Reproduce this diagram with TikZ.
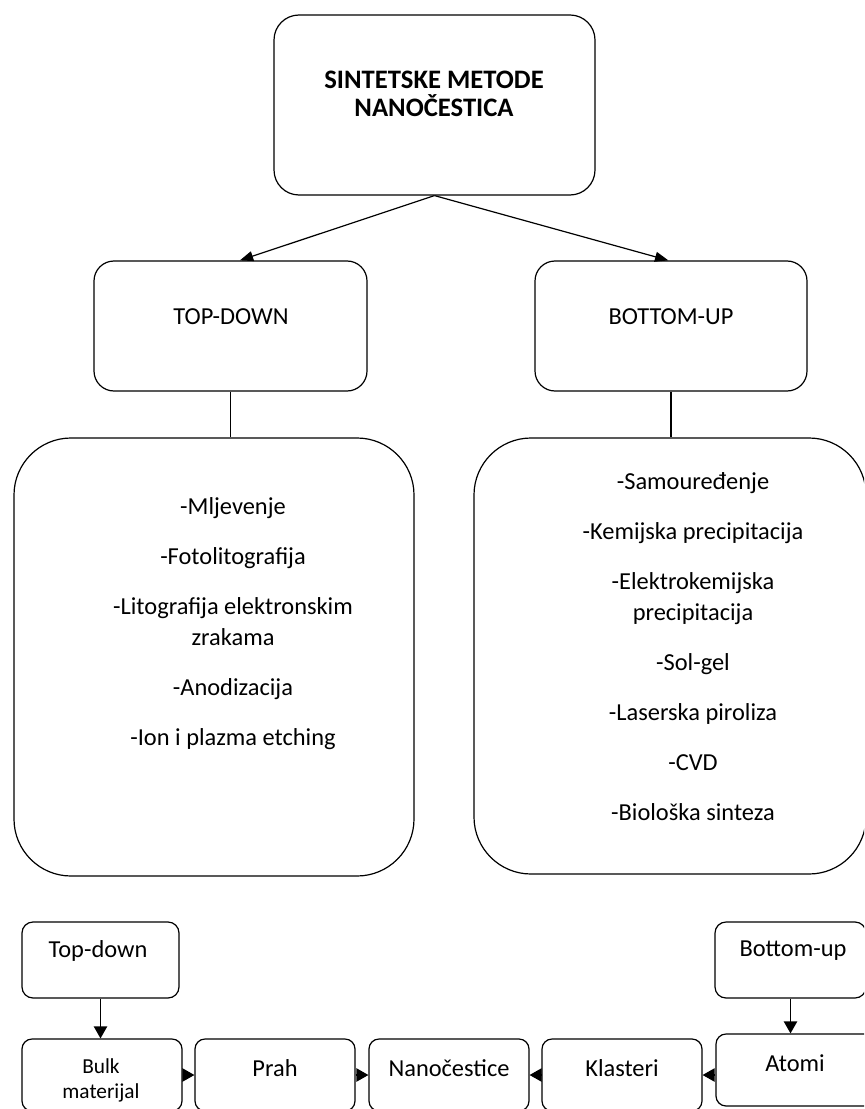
\documentclass[tikz,border=0pt]{standalone}
\usepackage{fontspec}
\setmainfont{Carlito}
\usetikzlibrary{arrows.meta}

\begin{document}
\begin{tikzpicture}[
        x          = 0.75pt,
        y          = -0.75pt,
        line width = 0.9pt,
        font       = \fontsize{18.3}{23.25}\selectfont
    ]

        \tikzset{%
            methodbox/.style n args = {3}{%
                rectangle,
                draw,
                rounded corners = #3*0.75pt,
                minimum width   = #1*0.75pt,
                minimum height  = #2*0.75pt,
                inner sep       = 0pt
            },
            methodtext/.style = {%
                align     = center,
                inner sep = 0pt
            },
            bigtip/.style   = {-{Triangle[length = 10pt, width = 7.5pt]}},
            smalltip/.style = {-{Triangle[length = 9pt, width = 10pt]}}
        }

        \newcommand{\listgap}{14.25pt}

        \clip (0, 0) rectangle (864, 1109);

        % Upper part
        \node[methodbox = {321}{180}{25}] (title) at (434.5, 105) {};
        \node[methodbox = {273}{130}{20}] (topdown) at (230.5, 326) {};
        \node[methodbox = {272}{130}{20}] (bottomup) at (671, 326) {};
        \node[methodbox = {400}{438}{57}] (tdlist) at (214, 657) {};
        \node[methodbox = {392}{436}{57}] (bulist) at (670, 656) {};

        \node[methodtext, font = \bfseries\fontsize{20}{21}\selectfont] (titletext) at (434, 94) {SINTETSKE METODE\\NANOČESTICA};
        \node[methodtext] (topdowntext) at (231, 317) {TOP-DOWN};
        \node[methodtext] (bottomuptext) at (671, 317) {BOTTOM-UP};

        \node[methodtext] (tdlisttext) at (233, 624) {%
            -Mljevenje\\[\listgap]
            -Fotolitografija\\[\listgap]
            -Litografija elektronskim\\zrakama\\[\listgap]
            -Anodizacija\\[\listgap]
            -Ion i plazma etching};

        \node[methodtext] (bulisttext) at (693, 647) {%
            -Samouređenje\\[\listgap]
            -Kemijska precipitacija\\[\listgap]
            -Elektrokemijska\\precipitacija\\[\listgap]
            -Sol-gel\\[\listgap]
            -Laserska piroliza\\[\listgap]
            -CVD\\[\listgap]
            -Biološka sinteza};

        \draw[bigtip] (title.south) -- ([xshift = 7pt]topdown.north);
        \draw[bigtip] (title.south) -- ([xshift = -2pt]bottomup.north);
        \draw (topdown.south) -- (topdown.south |- tdlist.north);
        \draw (bottomup.south) -- (bottomup.south |- bulist.north);

        % Lower part
        \node[methodbox = {157}{76}{11}] (tdsmall) at (100.5, 960) {};
        \node[methodbox = {151}{76}{11}] (busmall) at (790.5, 960) {};

        \foreach \boxname/\xpos in {bulk/102, prah/275, nano/449, klast/622} {
            \node[methodbox = {160}{72}{10}] (\boxname) at (\xpos, 1075) {};
        }
        \node[methodbox = {164}{72}{10}] (atomi) at (798, 1070) {};

        \node[methodtext] (tdsmalltext) at (98, 951) {Top-down};
        \node[methodtext] (busmalltext) at (793, 951) {Bottom-up};
        \node[methodtext, font = \fontsize{16}{18.75}\selectfont] (bulktext) at (101, 1080) {Bulk\\materijal};
        \node[methodtext] (prahtext) at (275, 1068) {Prah};
        \node[methodtext] (nanotext) at (449, 1068) {Nanočestice};
        \node[methodtext] (klasttext) at (622, 1068) {Klasteri};
        \node[methodtext] (atomitext) at (795, 1063) {Atomi};

        \draw[smalltip] (tdsmall.south) -- (tdsmall.south |- bulk.north);
        \draw[smalltip] (busmall.south) -- (busmall.south |- atomi.north);
        \draw[smalltip] (bulk.east) -- (prah.west);
        \draw[smalltip] (prah.east) -- (nano.west);
        \draw[smalltip] (klast.west) -- (nano.east);
        \draw[smalltip] (atomi.west |- klast.east) -- (klast.east);

    \end{tikzpicture}
\end{document}
